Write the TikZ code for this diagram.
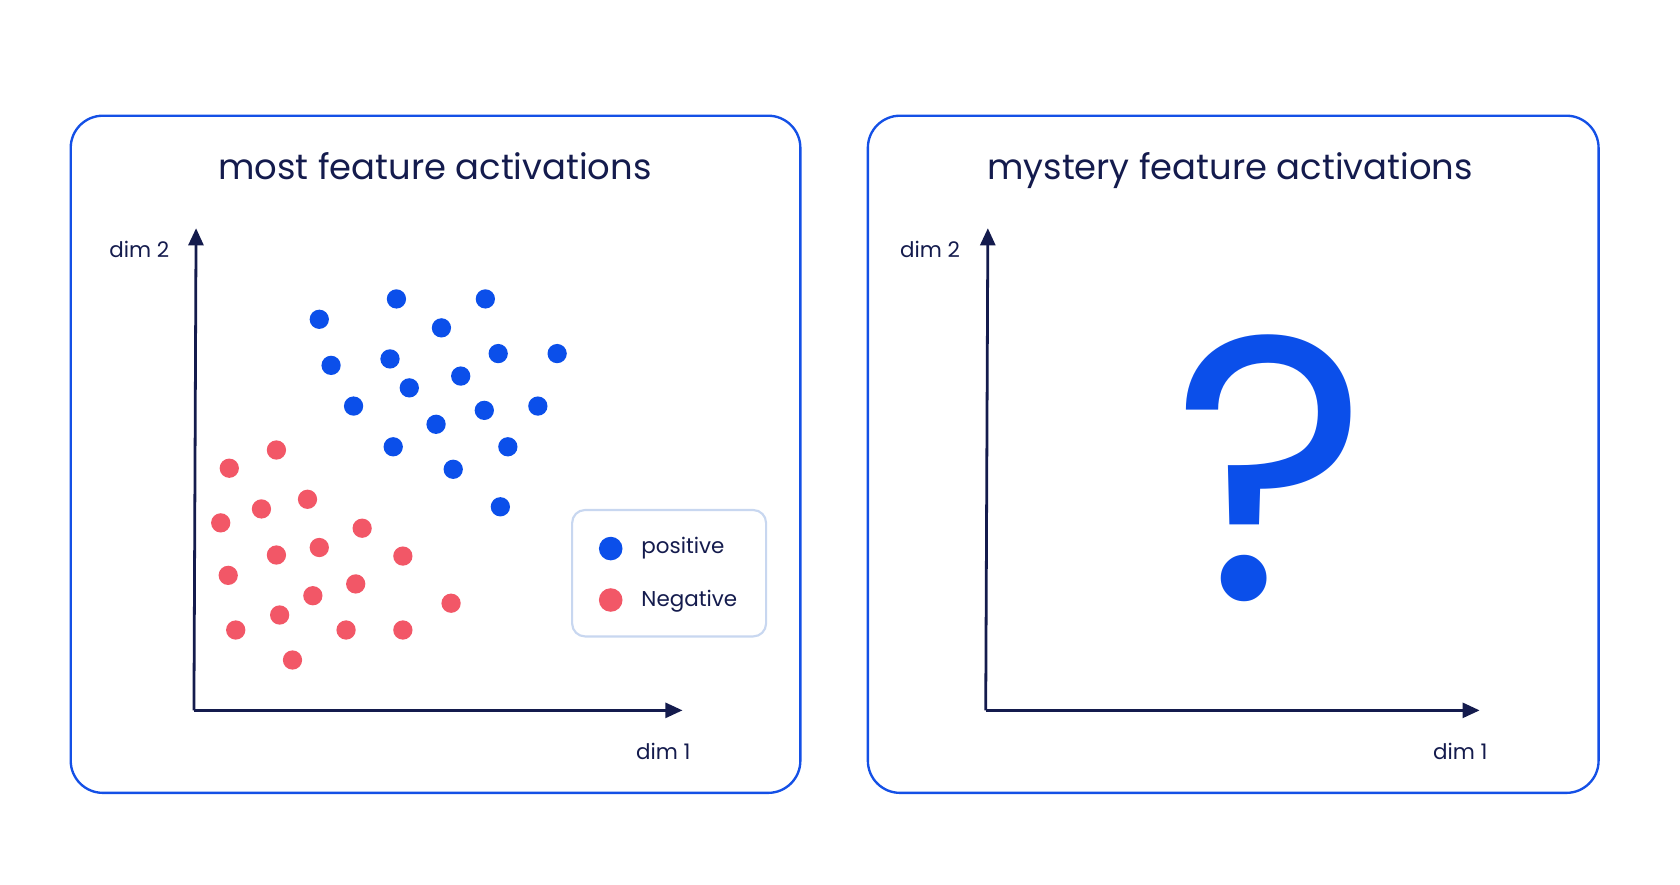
\documentclass[tikz,border=0pt]{standalone}
\usepackage{fontspec}
\setmainfont{Poppins}
\usetikzlibrary{arrows.meta}
\definecolor{panelblue}{RGB}{20,80,230}
\definecolor{dotblue}{RGB}{11,79,234}
\definecolor{dotred}{RGB}{242,87,103}
\definecolor{inknavy}{RGB}{20,27,77}
\definecolor{legendline}{RGB}{200,215,240}
\tikzset{every picture/.style={line width=0.75pt}}
\tikzset{
  panel/.style={draw=panelblue,line width=2.2pt,rounded corners=30pt},
  axis/.style={draw=inknavy,line width=2.6pt,-{Triangle[length=16pt,width=14pt]}},
  axlabel/.style={text=inknavy,font=\fontsize{20}{24}\selectfont},
  title/.style={text=inknavy,font=\fontsize{33}{38}\selectfont,anchor=base},
  posdot/.style={circle,fill=dotblue,minimum size=18pt,inner sep=0pt},
  negdot/.style={circle,fill=dotred,minimum size=18pt,inner sep=0pt}
}
\begin{document}
\begin{tikzpicture}[x=1pt,y=1pt,yscale=-1,xscale=1]
\useasboundingbox (0,0) rectangle (1568,826);

% panels
\draw[panel] (66,108) rectangle (747,740);
\draw[panel] (810,108) rectangle (1492,740);
\node[title] (titleL) at (406,168) {most feature activations};
\node[title] (titleR) at (1148,168) {mystery feature activations};

% axes left
\coordinate (oL) at (181,663);
\coordinate (xL) at (637,663);
\coordinate (yL) at (183,213);
\draw[axis] (oL) -- (xL);
\draw[axis] (oL) -- (yL);
\node[axlabel] (dimyL) at (130,233) {dim 2};
\node[axlabel] (dimxL) at (619,701) {dim 1};

% axes right
\coordinate (oR) at (920,663);
\coordinate (xR) at (1381,663);
\coordinate (yR) at (922,213);
\draw[axis] (oR) -- (xR);
\draw[axis] (oR) -- (yR);
\node[axlabel] (dimyR) at (868,233) {dim 2};
\node[axlabel] (dimxR) at (1363,701) {dim 1};

% points
\foreach \px/\py in {298/298,370/279,453/279,412/306,309/341,364/335,465/330,520/330,382/362,430/351,330/379,407/396,452/383,502/379,367/417,474/417,423/438,467/473}
  \node[posdot] at (\px,\py) {};
\foreach \px/\py in {214/437,258/420,244/475,287/466,206/488,338/493,258/518,298/511,376/519,213/537,332/545,292/556,421/563,261/574,220/588,323/588,376/588,273/616}
  \node[negdot] at (\px,\py) {};

% legend
\draw[draw=legendline,line width=2pt,rounded corners=12pt,fill=white] (534,476) rectangle (715,594);
\node[posdot,minimum size=22pt] (lgpos) at (570,512) {};
\node[negdot,minimum size=22pt] (lgneg) at (570,560) {};
\node[axlabel,anchor=west] (lgposT) at (595,512) {positive};
\node[axlabel,anchor=west] (lgnegT) at (595,561) {Negative};

% question mark
\node[text=dotblue,font=\fontsize{350}{350}\selectfont] (qmark) at (1186,437) {?};
\end{tikzpicture}
\end{document}
